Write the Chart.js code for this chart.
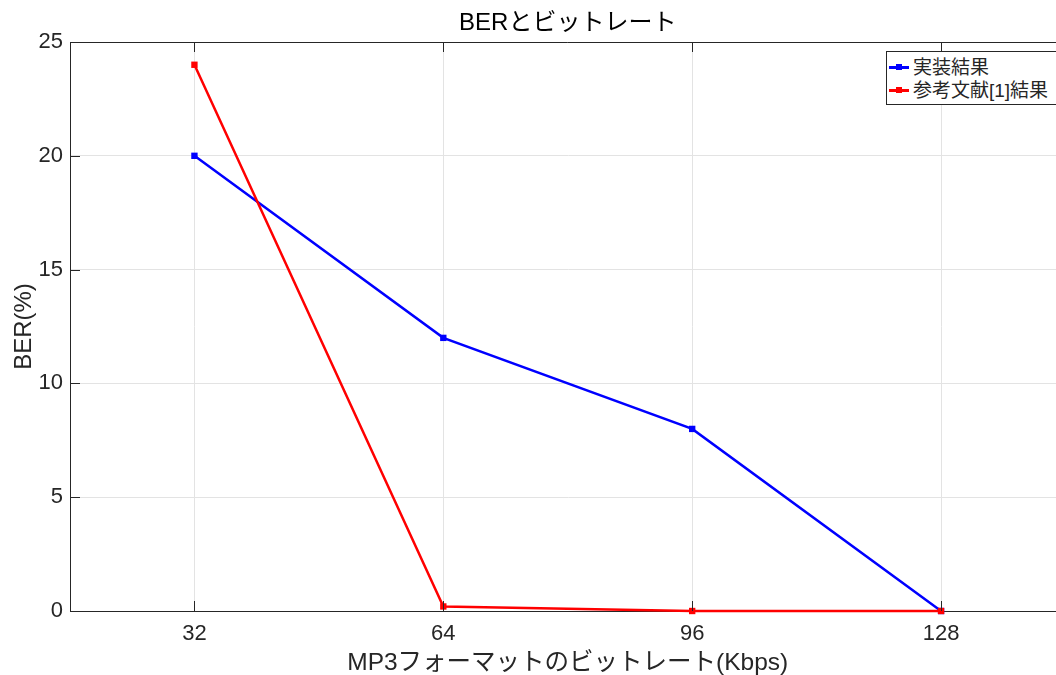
<!DOCTYPE html>
<html><head><meta charset="utf-8">
<script src="https://cdn.jsdelivr.net/npm/chart.js@4.4.1/dist/chart.umd.min.js"></script>
<style>
html,body{margin:0;padding:0;background:#fff;overflow:hidden;width:1056px;height:675px}
#wrap{position:relative;width:1070px;height:675px}
#legend{position:absolute;left:886px;top:51px;width:180px;height:54px;border:1px solid #262626;background:#fff;
  font-family:"Liberation Sans","Noto Sans CJK JP",sans-serif;font-size:19px;color:#262626;box-sizing:border-box;padding-top:4px}
.item{height:23px;line-height:23px;display:flex;align-items:center;white-space:nowrap}
.sw{position:relative;width:20px;height:23px;margin-left:2px;margin-right:4px}
.sw .ln{position:absolute;left:0;top:10px;width:20px;height:3px}
.sw .mk{position:absolute;left:7px;top:8px;width:6px;height:6px}
</style>
</head><body>
<div id="wrap"><canvas id="c" width="1070" height="675"></canvas><div id="legend"></div></div>
<script>
const bitrates = [32, 64, 96, 128];
const berImpl = [20, 12, 8, 0];
const berRef = [24, 0.2, 0, 0];
const seriesNames = ['実装結果', '参考文献[1]結果'];
const seriesColors = ['#0000ff', '#ff0000'];
const chartTitle = 'BERとビットレート';
const xTitle = 'MP3フォーマットのビットレート(Kbps)';
const yTitle = 'BER(%)';
const FONT = '"Liberation Sans", "Noto Sans CJK JP", sans-serif';
const AX = '#262626';

const toXY = arr => bitrates.map((x, i) => ({x: x, y: arr[i]}));

const framePlugin = {
  id: 'frame',
  afterDatasetsDraw(chart) {
    const {ctx, chartArea: a, scales} = chart;
    ctx.save();
    ctx.strokeStyle = AX;
    ctx.lineWidth = 1;
    ctx.beginPath();
    ctx.moveTo(a.left, a.top + 0.5); ctx.lineTo(a.right, a.top + 0.5);
    scales.x.ticks.forEach(t => {
      const px = Math.round(scales.x.getPixelForValue(t.value)) + 0.5;
      ctx.moveTo(px, a.bottom); ctx.lineTo(px, a.bottom - 10);
      ctx.moveTo(px, a.top); ctx.lineTo(px, a.top + 10);
    });
    scales.y.ticks.forEach(t => {
      const py = Math.round(scales.y.getPixelForValue(t.value)) + 0.5;
      ctx.moveTo(a.left, py); ctx.lineTo(a.left + 10, py);
    });
    ctx.stroke();
    ctx.restore();
  }
};

const chart = new Chart(document.getElementById('c'), {
  type: 'line',
  data: {
    datasets: [
      {label: seriesNames[0], data: toXY(berImpl), borderColor: seriesColors[0], backgroundColor: seriesColors[0],
       borderWidth: 2.5, pointStyle: 'rect', pointRadius: 4.5, pointBorderWidth: 0, order: 1, clip: false},
      {label: seriesNames[1], data: toXY(berRef), borderColor: seriesColors[1], backgroundColor: seriesColors[1],
       borderWidth: 2.5, pointStyle: 'rect', pointRadius: 4.5, pointBorderWidth: 0, order: 0, clip: false}
    ]
  },
  options: {
    responsive: false,
    animation: false,
    events: [],
    layout: {padding: {left: 0, right: 3.5, top: 0, bottom: 0}},
    plugins: {
      legend: {display: false},
      tooltip: {enabled: false},
      title: {display: true, text: chartTitle, fullSize: false, color: '#000',
        font: {family: FONT, size: 24, weight: 'normal', lineHeight: 1.2}, padding: {top: 9, bottom: 4.2}}
    },
    scales: {
      x: {
        type: 'linear', min: 16, max: 144,
        afterBuildTicks: s => { s.ticks = bitrates.map(v => ({value: v})); },
        afterFit: s => { s.height = 64; },
        grid: {color: '#e3e3e3', drawTicks: false},
        border: {color: AX, width: 1},
        ticks: {color: AX, padding: 10, font: {family: FONT, size: 22}, callback: v => String(v)},
        title: {display: true, text: xTitle, color: AX, font: {family: FONT, size: 24.5, lineHeight: 1}, padding: 0}
      },
      y: {
        min: 0, max: 25,
        afterFit: s => { s.width = 70; },
        grid: {color: '#e3e3e3', drawTicks: false},
        border: {color: AX, width: 1},
        ticks: {stepSize: 5, color: AX, padding: 7, font: {family: FONT, size: 22}},
        title: {display: true, text: yTitle, color: AX, font: {family: FONT, size: 24, lineHeight: 1}, padding: {top: 12, bottom: 0}}
      }
    }
  },
  plugins: [framePlugin]
});

const lg = document.getElementById('legend');
chart.data.datasets.forEach(ds => {
  const it = document.createElement('div'); it.className = 'item';
  const sw = document.createElement('div'); sw.className = 'sw';
  const ln = document.createElement('div'); ln.className = 'ln'; ln.style.background = ds.borderColor;
  const mk = document.createElement('div'); mk.className = 'mk'; mk.style.background = ds.borderColor;
  sw.appendChild(ln); sw.appendChild(mk);
  const tx = document.createElement('span'); tx.textContent = ds.label;
  it.appendChild(sw); it.appendChild(tx); lg.appendChild(it);
});
</script>
</body></html>
